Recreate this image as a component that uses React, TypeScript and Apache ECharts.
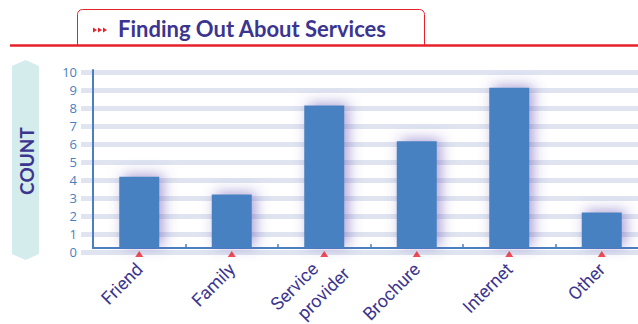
import React, { useEffect, useRef } from "react";
import * as echarts from "echarts";

const titleText = "Finding Out About Services";
const yAxisTitle = "COUNT";
const categories = ["Friend", "Family", "Service\nprovider", "Brochure", "Internet", "Other"];
const counts = [4, 3, 8, 6, 9, 2];
const markers = [0, 0, 0, 0, 0, 0];
const yMin = 0;
const yMax = 10;
const yInterval = 1;

const INDIGO = "#3b3591";
const RED = "#e8202a";
const BLUE = "#4681c1";
const AXIS_BLUE = "#4a7fc0";
const BAND = "#dfe4f0";
const LABEL_FONT = "Roboto, 'Liberation Sans', sans-serif";

export default function App() {
  const ref = useRef<HTMLDivElement>(null);
  useEffect(() => {
    if (!ref.current) return;
    const chart = echarts.init(ref.current, null, { renderer: "svg" });
    const categoryItems = categories.map((c) =>
      c.indexOf("\n") >= 0 ? { value: c, textStyle: { align: "center" } } : c
    );
    const option: any = {
      animation: false,
      backgroundColor: "#ffffff",
      graphic: [
        {
          type: "rect",
          shape: { x: 77.5, y: 9.5, width: 347, height: 36, r: [5, 5, 0, 0] },
          style: { fill: "#ffffff", stroke: RED, lineWidth: 1 },
          z: 10,
        },
        {
          type: "line",
          shape: { x1: 10, y1: 45.5, x2: 640, y2: 45.5 },
          style: { stroke: RED, lineWidth: 2.5 },
          z: 11,
        },
        ...[93, 98, 103].map((x) => ({
          type: "polygon",
          shape: { points: [[x, 27.5], [x + 4, 30], [x, 32.5]] },
          style: { fill: RED },
          z: 11,
        })),
        {
          type: "text",
          x: 118,
          y: 28.5,
          style: {
            text: titleText,
            fill: INDIGO,
            font: "bold 22px Lato, 'Open Sans', sans-serif",
            textVerticalAlign: "middle",
          },
          z: 11,
        },
        {
          type: "polygon",
          shape: {
            points: [[12, 66], [25.5, 60], [39, 66], [39, 254], [25.5, 260], [12, 254]],
          },
          style: { fill: "#d4ecec" },
          z: 1,
        },
        {
          type: "text",
          x: 26,
          y: 161,
          rotation: Math.PI / 2,
          style: {
            text: yAxisTitle,
            fill: INDIGO,
            font: "bold 19px Lato, 'Open Sans', sans-serif",
            textAlign: "center",
            textVerticalAlign: "middle",
          },
          z: 2,
        },
      ],
      grid: [
        { left: 81, right: -10, top: 72, bottom: 72, containLabel: false, outerBoundsMode: "none" },
        { left: 93, right: -10, top: 70, bottom: 76, containLabel: false, outerBoundsMode: "none" },
      ],
      xAxis: [
        { type: "category", gridIndex: 0, data: categories, show: false },
        {
          type: "category",
          gridIndex: 1,
          data: categoryItems,
          axisLine: { show: true, lineStyle: { color: AXIS_BLUE, width: 2 } },
          axisTick: { show: true, inside: true, length: 4, lineStyle: { color: AXIS_BLUE, width: 1.5 } },
          axisLabel: {
            interval: 0,
            rotate: 45,
            margin: 18,
            color: INDIGO,
            fontSize: 18,
            fontFamily: LABEL_FONT,
            formatter: (value: string) => {
              const parts = value.split("\n");
              if (parts.length === 1) return "{s|" + value + "}";
              return "{a|" + parts[0] + "}\n{b|" + parts[1] + "}";
            },
            rich: {
              s: { color: INDIGO, fontSize: 18, fontFamily: LABEL_FONT },
              a: { color: INDIGO, fontSize: 18, fontFamily: LABEL_FONT, lineHeight: 37, align: "center", padding: [0, 71, 0, 0] },
              b: { color: INDIGO, fontSize: 18, fontFamily: LABEL_FONT, lineHeight: 14, align: "center", padding: [0, 40, 0, 0] },
            },
          },
          splitLine: { show: false },
        },
      ],
      yAxis: [
        {
          type: "value",
          gridIndex: 0,
          min: yMin,
          max: yMax,
          interval: yInterval,
          axisLine: { show: false },
          axisTick: { show: false },
          axisLabel: {
            color: AXIS_BLUE,
            fontSize: 13,
            margin: 4,
            fontFamily: "'Open Sans', Lato, sans-serif",
            fontWeight: 500,
          },
          splitLine: { show: true, lineStyle: { color: BAND, width: 5 } },
        },
        {
          type: "value",
          gridIndex: 1,
          min: yMin,
          max: yMax,
          interval: yInterval,
          axisLine: { show: true, lineStyle: { color: AXIS_BLUE, width: 2 } },
          axisTick: { show: false },
          axisLabel: { show: false },
          splitLine: { show: false },
        },
      ],
      series: [
        {
          type: "bar",
          xAxisIndex: 1,
          yAxisIndex: 1,
          data: counts,
          barWidth: 40,
          itemStyle: {
            color: BLUE,
            shadowBlur: 14,
            shadowColor: "rgba(100,80,180,0.55)",
            shadowOffsetX: 4,
            shadowOffsetY: -2,
          },
          z: 3,
        },
        {
          type: "scatter",
          xAxisIndex: 1,
          yAxisIndex: 1,
          data: markers,
          symbol: "triangle",
          symbolSize: [8, 6],
          symbolOffset: [0, 6],
          clip: false,
          itemStyle: { color: RED },
          z: 4,
        },
      ],
    };
    chart.setOption(option);
    return () => chart.dispose();
  }, []);
  return (
    <div
      ref={ref}
      style={{ position: "fixed", left: 0, top: 0, width: 638, height: 324 }}
    />
  );
}
